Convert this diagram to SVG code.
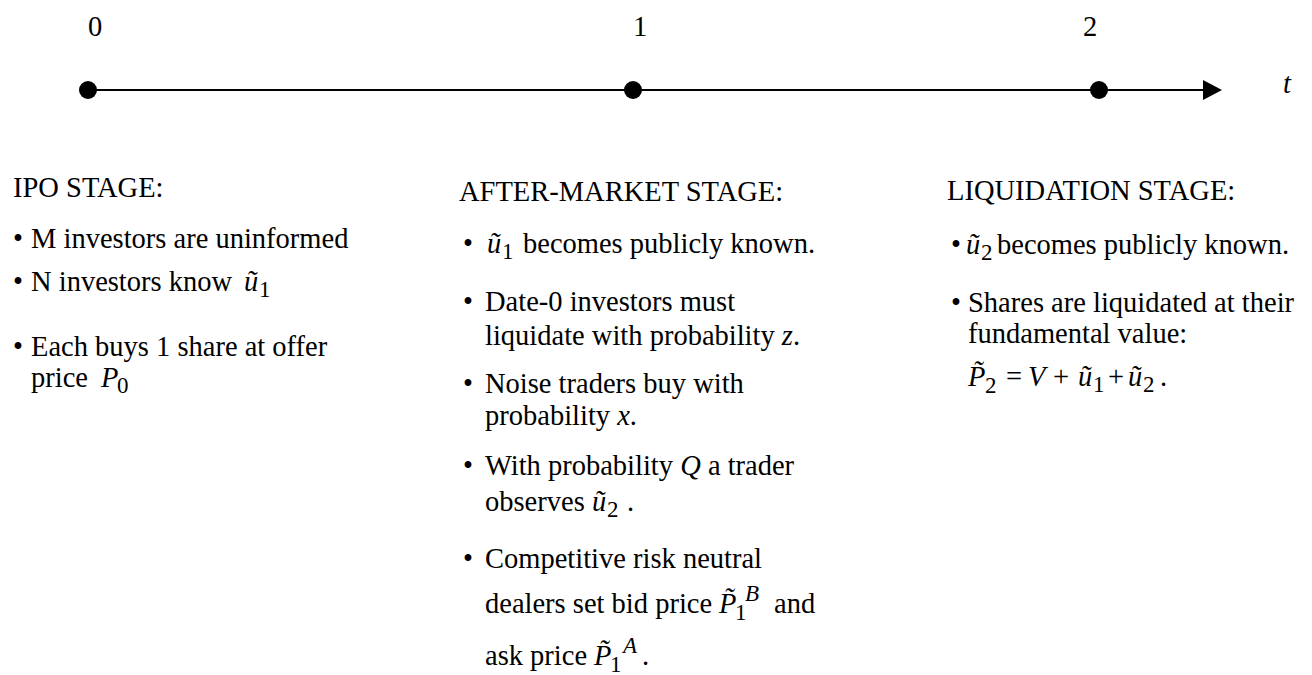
<svg xmlns="http://www.w3.org/2000/svg" width="1312" height="675" viewBox="0 0 1312 675">
<style>
text{font-family:"Liberation Serif","Times New Roman",serif;font-size:28.5px;fill:#000}
.i{font-style:italic}
.s{font-size:23px}
.ax{stroke:#000;stroke-width:2;fill:none}
.dot{fill:#000}
</style>
<defs>
<marker id="arr" markerUnits="userSpaceOnUse" markerWidth="20" markerHeight="20" refX="0" refY="10" orient="auto">
<path d="M0,0 L19,10 L0,20 Z" fill="#000"/>
</marker>
</defs>
<rect width="1312" height="675" fill="#fff"/>
<g id="connectors">
<line class="ax" x1="88" y1="90" x2="1203" y2="90" marker-end="url(#arr)"/>
</g>
<g id="t0"><circle class="dot" cx="88" cy="90" r="9"/><text x="95" y="36" text-anchor="middle">0</text></g>
<g id="t1"><circle class="dot" cx="633" cy="90" r="9"/><text x="640" y="36" text-anchor="middle">1</text></g>
<g id="t2"><circle class="dot" cx="1099" cy="90" r="9"/><text x="1090" y="36" text-anchor="middle">2</text></g>
<g id="axis-label"><text class="i" x="1283" y="93">t</text></g>

<g id="ipo-stage">
<text x="13" y="197">IPO STAGE:</text>
<text x="13" y="248">•</text><text x="31" y="248">M investors are uninformed</text>
<text x="13" y="291">•</text><text x="31" y="291">N investors know</text>
<text class="i" x="244" y="291">ũ</text><text class="s" x="259" y="297">1</text>
<text x="13" y="356">•</text><text x="31" y="356">Each buys 1 share at offer</text>
<text x="31" y="387">price</text><text class="i" x="101" y="387">P</text><text class="s" x="117" y="393">0</text>
</g>

<g id="after-market-stage">
<text x="459" y="201">AFTER-MARKET STAGE:</text>
<text x="463" y="253">•</text><text class="i" x="487" y="253">ũ</text><text class="s" x="502" y="259">1</text><text x="523" y="253">becomes publicly known.</text>
<text x="463" y="311">•</text><text x="485" y="311">Date-0 investors must</text>
<text x="485" y="345">liquidate with probability <tspan class="i">z</tspan>.</text>
<text x="463" y="393">•</text><text x="485" y="393">Noise traders buy with</text>
<text x="485" y="425">probability <tspan class="i">x</tspan>.</text>
<text x="463" y="475">•</text><text x="485" y="475">With probability <tspan class="i">Q</tspan> a trader</text>
<text x="485" y="511">observes</text><text class="i" x="592" y="511">ũ</text><text class="s" x="607" y="517">2</text><text x="627" y="511">.</text>
<text x="463" y="568">•</text><text x="485" y="568">Competitive risk neutral</text>
<text x="485" y="613">dealers set bid price</text><text class="i" x="719" y="613">P&#x303;</text><text class="s" x="735" y="620">1</text><text class="i s" x="745" y="601">B</text><text x="774" y="613">and</text>
<text x="485" y="665">ask price</text><text class="i" x="594" y="665">P&#x303;</text><text class="s" x="610" y="672">1</text><text class="i s" x="623" y="653">A</text><text x="642" y="665">.</text>
</g>

<g id="liquidation-stage">
<text x="947" y="200">LIQUIDATION STAGE:</text>
<text x="951" y="254">•</text><text class="i" x="966" y="254">ũ</text><text class="s" x="981" y="260">2</text><text x="997" y="254">becomes publicly known.</text>
<text x="951" y="312">•</text><text x="968" y="312">Shares are liquidated at their</text>
<text x="968" y="343">fundamental value:</text>
<text class="i" x="968" y="386">P&#x303;</text><text class="s" x="985" y="393">2</text>
<text x="1006" y="386">=</text><text class="i" x="1028" y="386">V</text><text x="1053" y="386">+</text>
<text class="i" x="1078" y="386">ũ</text><text class="s" x="1093" y="392">1</text>
<text x="1108" y="386">+</text>
<text class="i" x="1128" y="386">ũ</text><text class="s" x="1143" y="392">2</text><text x="1160" y="386">.</text>
</g>
</svg>
